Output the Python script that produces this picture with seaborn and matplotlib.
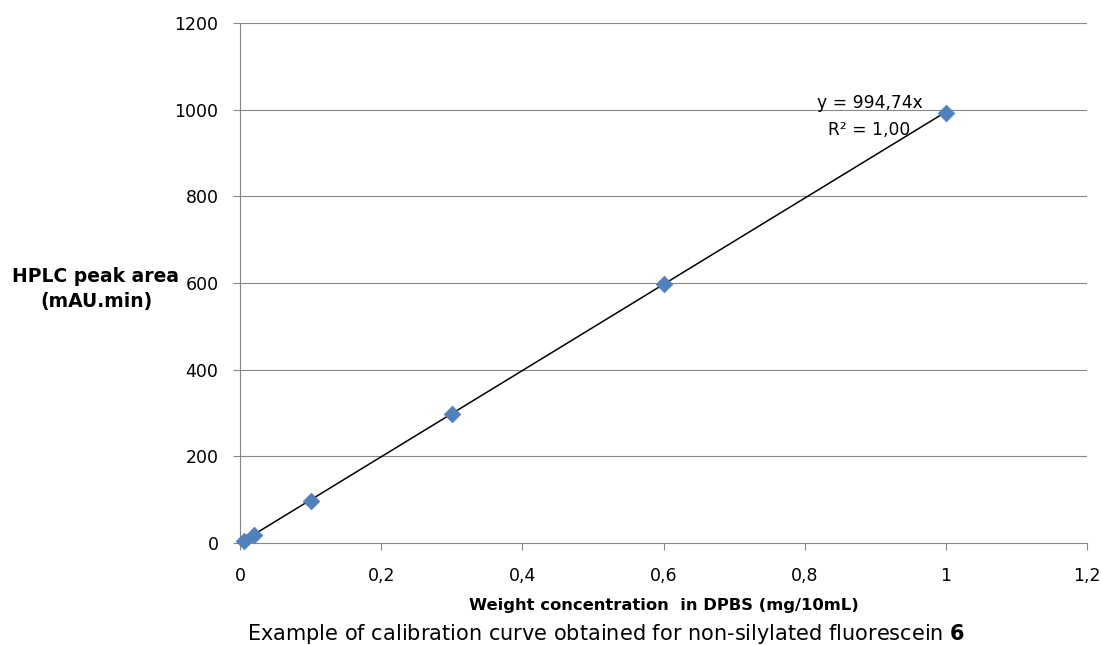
import seaborn as sns
import matplotlib.pyplot as plt
import pandas as pd
import numpy as np

# calibration points
conc = [0.005, 0.02, 0.1, 0.3, 0.6, 1.0]
area = [5, 18, 98, 297, 597, 993]
slope = 994.74
x_ticks = [0, 0.2, 0.4, 0.6, 0.8, 1.0, 1.2]
x_labels = ['0', '0,2', '0,4', '0,6', '0,8', '1', '1,2']
y_ticks = [0, 200, 400, 600, 800, 1000, 1200]

sns.set_style("white")
plt.rcParams['font.family'] = ['DejaVu Sans']
plt.rcParams['text.color'] = 'black'
plt.rcParams['mathtext.fontset'] = 'custom'
plt.rcParams['mathtext.bf'] = 'DejaVu Sans:bold'
plt.rcParams['mathtext.rm'] = 'DejaVu Sans'

df = pd.DataFrame({'conc': conc, 'area': area})
fit = pd.DataFrame({'conc': [0, 1.0]})
fit['area'] = slope * fit['conc']

W, H = 1102, 645
fig = plt.figure(figsize=(W / 100, H / 100), dpi=100)
ax = fig.add_axes([240 / W, (H - 543) / H, 847 / W, 520 / H])

for y in y_ticks[1:]:
    ax.axhline(y, color='#878787', linewidth=0.8, zorder=0)

sns.lineplot(data=fit, x='conc', y='area', color='black', linewidth=1.1, ax=ax, zorder=2)
sns.scatterplot(data=df, x='conc', y='area', marker='D', s=72, color='#4F81BD',
                edgecolor='#4F81BD', linewidth=0.5, ax=ax, zorder=3, clip_on=False)

ax.set_xlim(0, 1.2)
ax.set_ylim(0, 1200)
ax.set_xticks(x_ticks)
ax.set_xticklabels(x_labels)
ax.set_yticks(y_ticks)
ax.tick_params(axis='both', labelsize=12.5, color='#878787', labelcolor='black',
               length=5, width=0.8, direction='out', bottom=True, left=True)
ax.tick_params(axis='y', pad=10.5)
ax.tick_params(axis='x', pad=12)
for s in ['top', 'right']:
    ax.spines[s].set_visible(False)
for s in ['left', 'bottom']:
    ax.spines[s].set_color('#878787')
    ax.spines[s].set_linewidth(0.8)
ax.set_xlabel('')
ax.set_ylabel('')

# trendline label, as Excel puts it
ax.text(0.892, 1005, 'y = 994,74x', ha='center', va='baseline', fontsize=12.3)
ax.text(0.892, 942, 'R² = 1,00', ha='center', va='baseline', fontsize=12.3)

fig.text(96 / W, (H - 282) / H, 'HPLC peak area', ha='center', va='baseline',
         fontsize=13.5, fontweight='bold')
fig.text(96 / W, (H - 307) / H, '(mAU.min)', ha='center', va='baseline',
         fontsize=13.5, fontweight='bold')
fig.text(664 / W, (H - 610) / H, 'Weight concentration  in DPBS (mg/10mL)', ha='center',
         va='baseline', fontsize=11.75, fontweight='bold')
fig.text(606 / W, (H - 640) / H, r'Example of calibration curve obtained for non-silylated fluorescein $\mathbf{6}$',
         ha='center', va='baseline', fontsize=15)

fig.savefig('out.png', dpi=100)
